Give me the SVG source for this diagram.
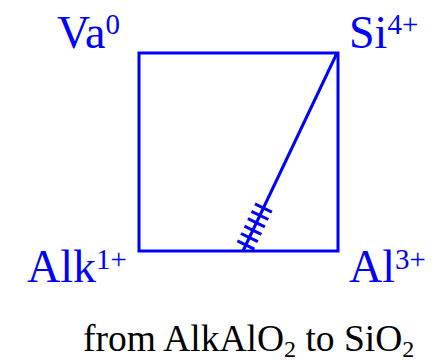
<svg xmlns="http://www.w3.org/2000/svg" width="436" height="364" viewBox="0 0 436 364">
<style>
.lbl{font-family:"Liberation Serif","Times New Roman",serif;font-size:46px;fill:#0000ff}
.sup{font-size:29px}
.cap{font-family:"Liberation Serif","Times New Roman",serif;font-size:37.5px;fill:#000}
.sub{font-size:24px}
.ln{stroke:#0000ff;stroke-width:3;fill:none}
.tk{stroke:#0000ff;stroke-width:3}
</style>
<rect width="436" height="364" fill="#fff"/>
<g id="connectors">
<rect class="ln" x="139" y="53" width="199" height="198"/>
<line class="ln" x1="337" y1="53" x2="243" y2="251"/>
<g id="hatch" class="tk">
<line x1="254.9" y1="203.9" x2="271.9" y2="212.1"/>
<line x1="251.4" y1="211.3" x2="268.4" y2="219.5"/>
<line x1="247.9" y1="218.7" x2="264.9" y2="226.9"/>
<line x1="244.4" y1="226.1" x2="261.4" y2="234.3"/>
<line x1="240.9" y1="233.5" x2="257.9" y2="241.7"/>
<line x1="237.4" y1="240.9" x2="254.4" y2="249.1"/>
</g>
</g>
<g id="va"><text class="lbl" x="57" y="48">Va<tspan class="sup" dy="-14">0</tspan></text></g>
<g id="si"><text class="lbl" x="349" y="48">Si<tspan class="sup" dy="-14">4+</tspan></text></g>
<g id="alk"><text class="lbl" x="27" y="282">Alk<tspan class="sup" dy="-13">1+</tspan></text></g>
<g id="al"><text class="lbl" x="349" y="282">Al<tspan class="sup" dy="-13">3+</tspan></text></g>
<g id="caption"><text class="cap" x="83" y="351">from AlkAlO<tspan class="sub" dy="6">2</tspan><tspan dy="-6"> to SiO</tspan><tspan class="sub" dy="6">2</tspan></text></g>
</svg>
